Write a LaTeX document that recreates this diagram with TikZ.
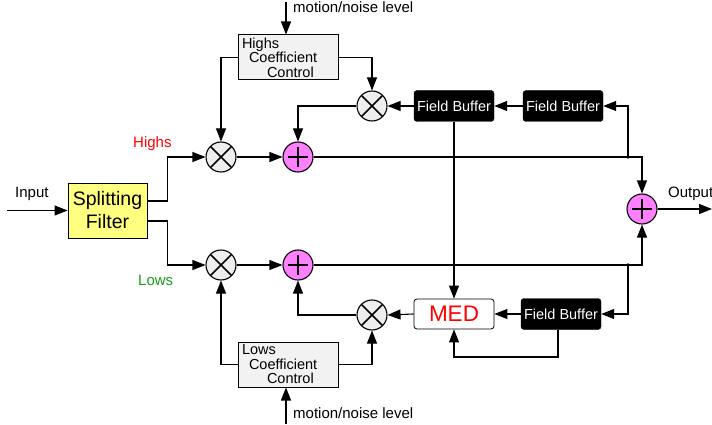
\documentclass[tikz,border=0pt]{standalone}
\usepackage{fontspec}
\setmainfont{Liberation Sans}
\usetikzlibrary{arrows.meta,calc}
\definecolor{yel}{HTML}{FFFF80}
\definecolor{mag}{HTML}{FF80FF}
\definecolor{lgray}{HTML}{EEEEEE}
\definecolor{boxgray}{HTML}{F2F2F2}
\definecolor{grn}{HTML}{1A9A1A}
\tikzset{
  conn/.style={line width=1.1pt},
  arr/.style={conn,-{Triangle[length=13pt,width=10pt]}},
  multnode/.style={circle,draw,line width=1.1pt,fill=lgray,minimum size=30pt,inner sep=0pt,
    path picture={\draw[line width=1.7pt] (path picture bounding box.north west) -- (path picture bounding box.south east)
      (path picture bounding box.north east) -- (path picture bounding box.south west);}},
  addnode/.style={circle,draw,line width=1.1pt,fill=mag,minimum size=30pt,inner sep=0pt,
    path picture={\draw[line width=1.8pt] ([xshift=-10pt]path picture bounding box.center) -- ([xshift=10pt]path picture bounding box.center)
      ([yshift=-10pt]path picture bounding box.center) -- ([yshift=10pt]path picture bounding box.center);}},
  fbnode/.style={draw,rounded corners=3pt,fill=black,text=white,minimum width=80pt,minimum height=31pt,inner sep=0pt,font=\fontsize{14.5}{16}\selectfont},
  mednode/.style={draw,line width=0.8pt,rounded corners=3pt,fill=white,text=red,minimum width=80pt,minimum height=30pt,inner sep=0pt,font=\fontsize{22.5}{24}\selectfont},
  ccnode/.style={draw,line width=1pt,fill=boxgray,text width=92pt,inner xsep=4pt,minimum height=45pt,inner ysep=1pt,align=left,font=\fontsize{14.5}{14.5}\selectfont},
  splitnode/.style={draw,line width=1pt,fill=yel,minimum width=79pt,minimum height=55pt,inner sep=0pt,align=center,font=\fontsize{19.5}{23}\selectfont},
  lbl/.style={anchor=base west,inner sep=0pt,font=\fontsize{15}{16}\selectfont}
}
\begin{document}
\begin{tikzpicture}[x=1pt,y=-1pt]
\useasboundingbox (0,0) rectangle (712,425);
% nodes
\node[splitnode] (sf) at (107.5,210.5) {Splitting\\Filter};
\node[multnode] (hm) at (221,157) {};
\node[multnode] (lm) at (221,265) {};
\node[addnode] (ha) at (298,157) {};
\node[addnode] (la) at (298,265) {};
\node[multnode] (hm2) at (372,106) {};
\node[multnode] (lm2) at (372,315) {};
\node[addnode] (out) at (642,209) {};
\node[ccnode] (hcc) at (288,57.5) {Highs\\\hspace*{7pt}Coefficient\\\hspace*{25pt}Control};
\node[ccnode] (lcc) at (288,364.5) {Lows\\\hspace*{7pt}Coefficient\\\hspace*{25pt}Control};
\node[fbnode] (fb1) at (454,106) {Field Buffer};
\node[fbnode] (fb2) at (563,106) {Field Buffer};
\node[mednode] (med) at (454,314) {MED};
\node[fbnode] (fb3) at (561,314) {Field Buffer};
% labels
\node[lbl] (inlbl) at (15,197) {Input};
\node[lbl,text=red] (hlbl) at (133,148) {Highs};
\node[lbl,text=grn] (llbl) at (138,285) {Lows};
\node[lbl] (outlbl) at (668,197) {Output};
\node[lbl] (mtl) at (293,13) {motion/noise level};
\node[lbl] (mbl) at (293,418) {motion/noise level};
% coordinates
\coordinate (in) at (7,210.5);
\coordinate (outend) at (712,209);
\coordinate (mt) at (286,2);
\coordinate (mb) at (286,424);
\coordinate (tapH) at (628,157);
\coordinate (tapL) at (628,265);
\coordinate (fbk) at (454,357);
% connectors
\draw[arr] (in) -- (sf.west);
\draw[arr] ([yshift=9.5pt]sf.east) -- ++(20,0) |- (hm.west);
\draw[arr] ([yshift=-10.5pt]sf.east) -- ++(20,0) |- (lm.west);
\draw[arr] (mt) -- (mt |- hcc.north);
\draw[arr] (mb) -- (mb |- lcc.south);
\draw[arr] (hcc.west) -| (hm.north);
\draw[arr] (hcc.east) -| (hm2.north);
\draw[arr] (lcc.west) -| (lm.south);
\draw[arr] (lcc.east) -| (lm2.south);
\draw[arr] (hm.east) -- (ha.west);
\draw[arr] (lm.east) -- (la.west);
\draw[arr] (hm2.west) -| (ha.north);
\draw[arr] (lm2.west) -| (la.south);
\draw[arr] (fb2.west) -- (fb1.east);
\draw[arr] (fb1.west) -- (hm2.east);
\draw[arr] (fb1.south) -- (med.north);
\draw[arr] (ha.east) -| (out.north);
\draw[arr] (la.east) -| (out.south);
\fill (tapH) circle (1.8pt);
\fill (tapL) circle (1.8pt);
\draw[arr] (tapH) |- (fb2.east);
\draw[arr] (tapL) |- (fb3.east);
\draw[arr] (fb3.west) -- (med.east);
\draw[arr] (med.west) -- (lm2.east);
\draw[arr] ([xshift=-3pt]fb3.south) |- (fbk) -- (med.south);
\draw[arr] (out.east) -- (outend);
\end{tikzpicture}
\end{document}
